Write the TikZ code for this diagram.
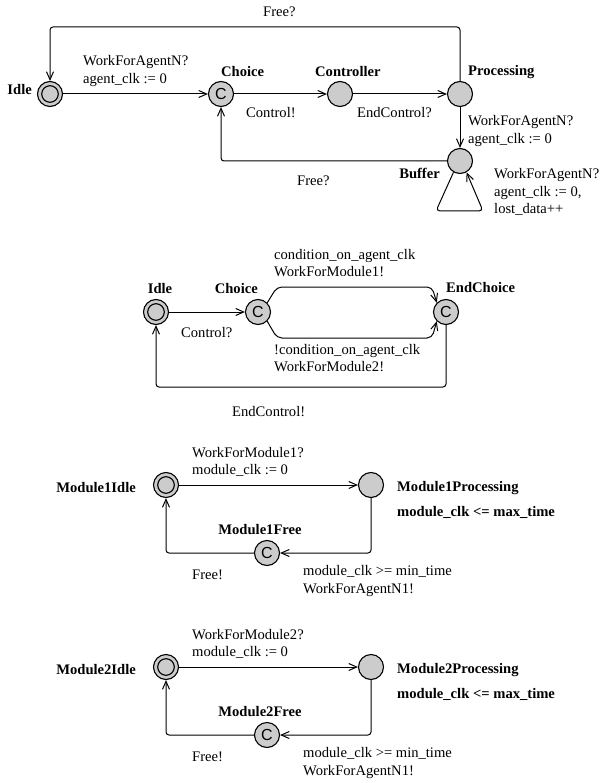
\documentclass[tikz,border=0pt]{standalone}
\usepackage{fontspec}
\setmainfont{Liberation Serif}
\setsansfont{Liberation Sans}
\usetikzlibrary{arrows.meta,positioning}
\newcommand{\lblfont}{\fontsize{14.6}{17.5}\selectfont}
\tikzset{
  loc/.style={circle, draw, line width=1.1pt, fill=black!20, minimum size=25pt, inner sep=0pt},
  initloc/.style={loc, path picture={\draw[line width=1.1pt] (path picture bounding box.center) circle (8.3pt);}},
  comloc/.style={loc, font=\sffamily\fontsize{16}{16}\selectfont},
  locname/.style={font=\lblfont\bfseries, inner sep=0pt},
  lbl/.style={font=\lblfont, align=left, inner sep=0pt, anchor=west},
  flow/.style={-{Straight Barb[length=8pt,width=7pt]}, line width=1pt, rounded corners=3pt},
}

\begin{document}
\begin{tikzpicture}[x=1pt, y=-1pt]
  \useasboundingbox (0,0) rectangle (601,783);
  % agent
  \node[initloc] (idleA) at (50,94) {};
  \node[comloc] (choiceA) at (221,94) {C};
  \node[loc] (ctrlA) at (340,94) {};
  \node[loc] (procA) at (460,94) {};
  \node[loc] (bufA) at (460,161) {};
  \node[locname, anchor=east] (idleAn) at (32,90) {Idle};
  \node[locname, anchor=west] (choiceAn) at (221,72) {Choice};
  \node[locname, anchor=west] (ctrlAn) at (315,72) {Controller};
  \node[locname, anchor=west] (procAn) at (468,72) {Processing};
  \node[locname, anchor=east] (bufAn) at (440,173) {Buffer};
  \node[lbl] (workA) at (83,71) {WorkForAgentN?\\agent\_clk := 0};
  \node[lbl] (ctrlAl) at (246,113) {Control!};
  \node[lbl] (endAl) at (357,113) {EndControl?};
  \node[lbl] (workB) at (468,131) {WorkForAgentN?\\agent\_clk := 0};
  \node[lbl] (freeAt) at (263,12) {Free?};
  \node[lbl] (freeAb) at (297,181) {Free?};
  \node[lbl] (lostA) at (494,192) {WorkForAgentN?\\agent\_clk := 0,\\lost\_data++};
  \coordinate (topA) at (0,27);
  \draw[flow] (idleA) -- (choiceA);
  \draw[flow] (choiceA) -- (ctrlA);
  \draw[flow] (ctrlA) -- (procA);
  \draw[flow] (procA) -- (bufA);
  \draw[flow] (procA.north) |- (idleA |- topA) -- (idleA.north);
  \draw[flow] (bufA.west) -| (choiceA.south);
  \draw[flow, rounded corners=4pt] (bufA.-120) -- (436,211) -- (483,211) -- (bufA.-60);

  % controller
  \node[initloc] (idleB) at (156,312) {};
  \node[comloc] (choiceB) at (258,312) {C};
  \node[comloc] (endB) at (446,312) {C};
  \node[locname] (idleBn) at (160,289) {Idle};
  \node[locname, anchor=east] (choiceBn) at (258,289) {Choice};
  \node[locname, anchor=west] (endBn) at (446,288) {EndChoice};
  \node[lbl] (ctrlBl) at (181,333) {Control?};
  \node[lbl] (condB) at (274,263) {condition\_on\_agent\_clk\\WorkForModule1!};
  \node[lbl] (ncondB) at (274,358) {!condition\_on\_agent\_clk\\WorkForModule2!};
  \node[lbl] (endBl) at (232,412) {EndControl!};
  \coordinate (botB) at (0,387);
  \draw[flow] (idleB) -- (choiceB);
  \draw[flow, rounded corners=5pt] (choiceB.45) -- (277,287) -- (432,287) -- (endB.135);
  \draw[flow, rounded corners=5pt] (choiceB.-45) -- (277,338) -- (432,338) -- (endB.-135);
  \draw[flow] (endB.south) |- (idleB |- botB) -- (idleB.south);

  % module 1
  \node[initloc] (idleC) at (166,485) {};
  \node[loc] (procC) at (371,485) {};
  \node[comloc] (freeC) at (267,553) {C};
  \node[locname, anchor=east] (idleCn) at (136,488) {Module1Idle};
  \node[locname, anchor=west] (procCn) at (397,488) {Module1Processing};
  \node[locname, anchor=west] (invC) at (397,512) {module\_clk <= max\_time};
  \node[locname] (freeCn) at (260,530) {Module1Free};
  \node[lbl] (workC) at (192,462) {WorkForModule1?\\module\_clk := 0};
  \node[lbl] (freeCl) at (192,575) {Free!};
  \node[lbl] (doneC) at (303,581) {module\_clk >= min\_time\\WorkForAgentN1!};
  \draw[flow] (idleC) -- (procC);
  \draw[flow] (procC.south) |- (freeC.east);
  \draw[flow] (freeC.west) -| (idleC.south);

  % module 2
  \node[initloc] (idleD) at (166,667) {};
  \node[loc] (procD) at (371,667) {};
  \node[comloc] (freeD) at (267,735) {C};
  \node[locname, anchor=east] (idleDn) at (136,670) {Module2Idle};
  \node[locname, anchor=west] (procDn) at (397,670) {Module2Processing};
  \node[locname, anchor=west] (invD) at (397,694) {module\_clk <= max\_time};
  \node[locname] (freeDn) at (260,712) {Module2Free};
  \node[lbl] (workD) at (192,644) {WorkForModule2?\\module\_clk := 0};
  \node[lbl] (freeDl) at (192,757) {Free!};
  \node[lbl] (doneD) at (303,763) {module\_clk >= min\_time\\WorkForAgentN1!};
  \draw[flow] (idleD) -- (procD);
  \draw[flow] (procD.south) |- (freeD.east);
  \draw[flow] (freeD.west) -| (idleD.south);
\end{tikzpicture}
\end{document}
